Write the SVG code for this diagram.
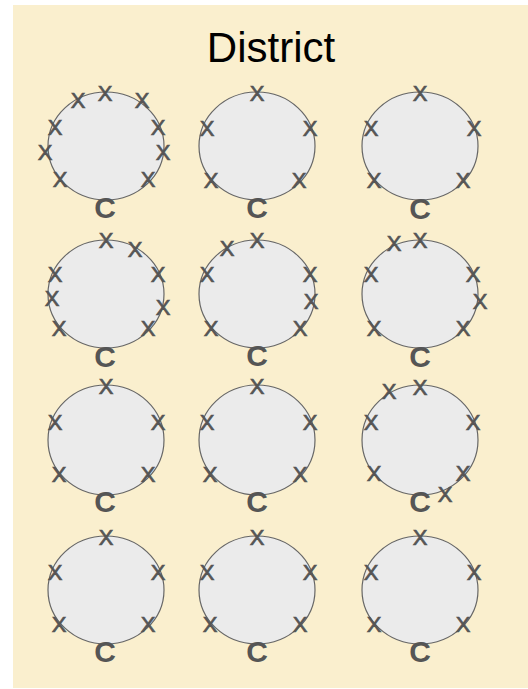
<svg xmlns="http://www.w3.org/2000/svg" width="528" height="689" viewBox="0 0 528 689">
<style>
.bg{fill:#faefce}
.e{fill:#ebebeb;stroke:#666;stroke-width:1.2}
.x{font-family:"Liberation Sans",Arial,sans-serif;font-size:22px;fill:#555;stroke:#555;stroke-width:0.7;text-anchor:middle}
.c{font-family:"Liberation Sans",Arial,sans-serif;font-size:30px;font-weight:bold;fill:#555;text-anchor:middle}
.t{font-family:"Liberation Sans",Arial,sans-serif;font-size:42px;fill:#000;text-anchor:middle}
</style>
<rect class="bg" x="13" y="5" width="515" height="683"/>
<text class="t" x="271" y="62">District</text>
<g id="connectors"/>
<g id="n11">
<ellipse class="e" cx="106" cy="146" rx="58" ry="54"/>
<text class="x" x="105" y="101">X</text><text class="x" x="78" y="108">X</text><text class="x" x="142" y="108">X</text>
<text class="x" x="55" y="135">X</text><text class="x" x="158" y="135">X</text>
<text class="x" x="45" y="160">X</text><text class="x" x="163" y="160">X</text>
<text class="x" x="60" y="187">X</text><text class="x" x="148" y="187">X</text>
<text class="c" x="105" y="218">C</text>
</g>
<g id="n12">
<ellipse class="e" cx="257" cy="146" rx="58" ry="54"/>
<text class="x" x="257" y="101">X</text>
<text class="x" x="207" y="136">X</text><text class="x" x="310" y="136">X</text>
<text class="x" x="211" y="188">X</text><text class="x" x="299" y="188">X</text>
<text class="c" x="257" y="218">C</text>
</g>
<g id="n13">
<ellipse class="e" cx="420" cy="146" rx="58" ry="54"/>
<text class="x" x="420" y="101">X</text>
<text class="x" x="371" y="136">X</text><text class="x" x="474" y="136">X</text>
<text class="x" x="374" y="188">X</text><text class="x" x="463" y="188">X</text>
<text class="c" x="420" y="219">C</text>
</g>
<g id="n21">
<ellipse class="e" cx="106" cy="294" rx="58" ry="54"/>
<text class="x" x="106" y="248">X</text><text class="x" x="135" y="257">X</text>
<text class="x" x="55" y="282">X</text><text class="x" x="158" y="282">X</text>
<text class="x" x="52" y="306">X</text><text class="x" x="163" y="315">X</text>
<text class="x" x="59" y="336">X</text><text class="x" x="148" y="336">X</text>
<text class="c" x="105" y="367">C</text>
</g>
<g id="n22">
<ellipse class="e" cx="257" cy="294" rx="58" ry="54"/>
<text class="x" x="227" y="256">X</text><text class="x" x="257" y="248">X</text>
<text class="x" x="207" y="282">X</text><text class="x" x="310" y="282">X</text>
<text class="x" x="311" y="309">X</text>
<text class="x" x="211" y="336">X</text><text class="x" x="300" y="336">X</text>
<text class="c" x="257" y="366">C</text>
</g>
<g id="n23">
<ellipse class="e" cx="420" cy="294" rx="58" ry="54"/>
<text class="x" x="394" y="251">X</text><text class="x" x="420" y="248">X</text>
<text class="x" x="371" y="282">X</text><text class="x" x="473" y="282">X</text>
<text class="x" x="480" y="309">X</text>
<text class="x" x="374" y="336">X</text><text class="x" x="463" y="336">X</text>
<text class="c" x="420" y="367">C</text>
</g>
<g id="n31">
<ellipse class="e" cx="106" cy="440" rx="58" ry="55"/>
<text class="x" x="106" y="394">X</text>
<text class="x" x="55" y="430">X</text><text class="x" x="158" y="430">X</text>
<text class="x" x="59" y="482">X</text><text class="x" x="148" y="482">X</text>
<text class="c" x="105" y="512">C</text>
</g>
<g id="n32">
<ellipse class="e" cx="257" cy="440" rx="58" ry="55"/>
<text class="x" x="257" y="394">X</text>
<text class="x" x="207" y="430">X</text><text class="x" x="310" y="430">X</text>
<text class="x" x="210" y="482">X</text><text class="x" x="300" y="482">X</text>
<text class="c" x="257" y="512">C</text>
</g>
<g id="n33">
<ellipse class="e" cx="420" cy="440" rx="58" ry="55"/>
<text class="x" x="389" y="399">X</text><text class="x" x="420" y="395">X</text>
<text class="x" x="371" y="430">X</text><text class="x" x="473" y="430">X</text>
<text class="x" x="374" y="481">X</text><text class="x" x="463" y="481">X</text>
<text class="x" x="445" y="502">X</text>
<text class="c" x="420" y="512">C</text>
</g>
<g id="n41">
<ellipse class="e" cx="106" cy="590" rx="58" ry="54"/>
<text class="x" x="106" y="545">X</text>
<text class="x" x="55" y="580">X</text><text class="x" x="158" y="580">X</text>
<text class="x" x="59" y="632">X</text><text class="x" x="148" y="632">X</text>
<text class="c" x="105" y="662">C</text>
</g>
<g id="n42">
<ellipse class="e" cx="257" cy="590" rx="58" ry="54"/>
<text class="x" x="257" y="545">X</text>
<text class="x" x="207" y="580">X</text><text class="x" x="310" y="580">X</text>
<text class="x" x="210" y="632">X</text><text class="x" x="300" y="632">X</text>
<text class="c" x="257" y="662">C</text>
</g>
<g id="n43">
<ellipse class="e" cx="420" cy="590" rx="58" ry="54"/>
<text class="x" x="420" y="545">X</text>
<text class="x" x="371" y="580">X</text><text class="x" x="474" y="580">X</text>
<text class="x" x="374" y="632">X</text><text class="x" x="463" y="632">X</text>
<text class="c" x="420" y="662">C</text>
</g>
</svg>
